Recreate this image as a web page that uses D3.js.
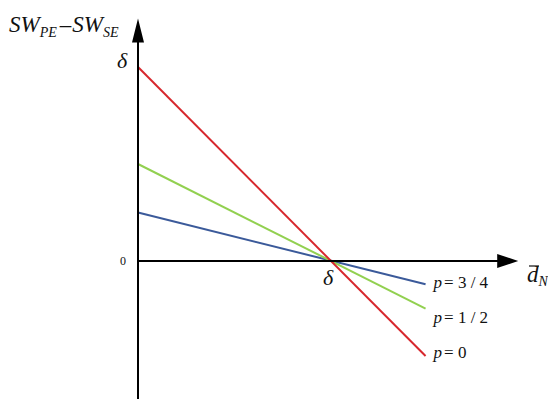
<!DOCTYPE html>
<html>
<head>
<meta charset="utf-8">
<script src="https://cdn.jsdelivr.net/npm/d3@7"></script>
<style>
  body { margin: 0; background: #fff; }
</style>
</head>
<body>
<div id="chart-area"></div>
<script>
// chart size
var width = 548, height = 399
var fontCss = "font-family: 'Liberation Serif', 'Times New Roman', serif;"

// data (delta = 1)
let pLabels = ["3 / 4", "1 / 2", "0"]
let lineColors = ["#3b5a9a", "#92d050", "#d7272d"]
let startY = [0.25, 0.5, 1]       // value at d = 0
let endX = 1.49
let endY = [-0.12, -0.245, -0.49] // value at d = endX
let labelY = [-0.14, -0.32, -0.5] // label baselines
let xAxisMax = 1.97, yAxisMax = 1.25, yAxisMin = -0.72

var x = d3.scaleLinear().domain([0, 1]).range([138, 331])
var y = d3.scaleLinear().domain([0, 1]).range([261, 67])

var svg = d3.select("#chart-area").append("svg")
    .attr("width", width)
    .attr("height", height)

// lines
var lines = pLabels.map((p, i) => ({ p: p, c: lineColors[i], a: [0, startY[i]], b: [endX, endY[i]] }))

svg.selectAll("line.series")
  .data(lines)
  .join("line")
    .attr("class", "series")
    .attr("x1", d => x(d.a[0])).attr("y1", d => y(d.a[1]))
    .attr("x2", d => x(d.b[0])).attr("y2", d => y(d.b[1]))
    .attr("stroke", d => d.c)
    .attr("stroke-width", 2)

// axes
svg.append("line")
    .attr("x1", x(0)).attr("y1", y(0))
    .attr("x2", x(xAxisMax) - 16).attr("y2", y(0))
    .attr("stroke", "#000").attr("stroke-width", 2)
svg.append("line")
    .attr("x1", x(0)).attr("y1", y(yAxisMin))
    .attr("x2", x(0)).attr("y2", y(yAxisMax) + 20)
    .attr("stroke", "#000").attr("stroke-width", 2)

// arrow heads
var tx = x(xAxisMax), ty = y(yAxisMax)
svg.append("path")
    .attr("d", `M${tx},${y(0)} L${tx - 21},${y(0) - 7} L${tx - 21},${y(0) + 7} Z`)
    .attr("fill", "#000")
svg.append("path")
    .attr("d", `M${x(0)},${ty} L${x(0) - 6},${ty + 24} L${x(0) + 6},${ty + 24} Z`)
    .attr("fill", "#000")

// text helpers
function css(size, italic) {
  return fontCss + " font-size:" + size + "px; font-style:" + (italic ? "italic" : "normal") + ";"
}
function txt(xp, yp, size, italic) {
  return svg.append("text")
    .attr("x", xp).attr("y", yp)
    .attr("font-family", "Liberation Serif")
    .attr("style", css(size, italic))
    .attr("fill", "#111")
}
function span(t, size, italic) {
  return t.append("tspan").attr("style", css(size, italic))
}

// line labels
lines.forEach((d, i) => {
  var t = txt(x(endX) + 8, y(labelY[i]), 17, true)
  span(t, 17, true).text("p")
  span(t, 17, false).attr("dx", 2).text("= " + d.p)
})

// tick-ish labels
txt(x(0) - 16, y(1) + 1, 22, true).attr("text-anchor", "middle").text("δ")
txt(x(1) - 3, y(0) + 24, 22, true).attr("text-anchor", "middle").text("δ")
txt(x(0) - 15, y(0) + 4, 12, false).attr("text-anchor", "middle").text("0")

// y axis title
var yt = txt(9, 32, 23, true)
span(yt, 23, true).text("SW")
span(yt, 14, true).attr("dy", 5).text("PE")
span(yt, 23, false).attr("dy", -5).attr("dx", 3).text("–")
span(yt, 23, true).attr("dx", 1).text("SW")
span(yt, 14, true).attr("dy", 5).text("SE")

// x axis title
var xt = txt(527, 282, 23, true)
span(xt, 23, true).text("d")
span(xt, 14, true).attr("dy", 4).text("N")
svg.append("line")
    .attr("x1", 529).attr("x2", 539)
    .attr("y1", 266).attr("y2", 266)
    .attr("stroke", "#111").attr("stroke-width", 1.2)
</script>
</body>
</html>
